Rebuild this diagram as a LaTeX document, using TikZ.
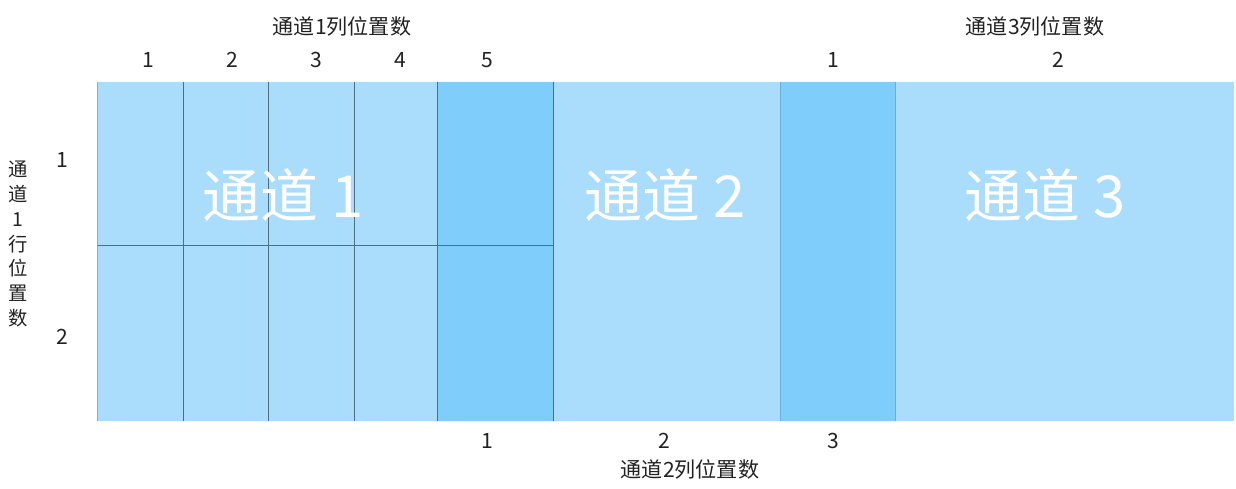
\documentclass[tikz,border=0pt]{standalone}
\usepackage{fontspec}
\setmainfont{Noto Sans CJK SC}
\usetikzlibrary{positioning}
\definecolor{lane}{HTML}{AADDFB}
\definecolor{slot}{HTML}{7FCDFB}
\definecolor{gridline}{HTML}{4F6F80}
\definecolor{ink}{HTML}{222222}

\begin{document}
\begin{tikzpicture}[x=0.02cm,y=-0.02cm,
	num/.style={text=ink,font=\fontsize{12}{14}\selectfont},
	captext/.style={text=ink,font=\fontsize{12}{14}\selectfont},
	big/.style={text=white,font=\fontsize{33}{36}\selectfont}]
	\useasboundingbox (0,0) rectangle (1236,488);

	% lanes
	\fill[lane] (97,82) rectangle (1234,421);
	\fill[slot] (437,82) rectangle (553,421);
	\fill[slot] (780,82) rectangle (895,421);
	\draw[slot!85!black,line width=0.3pt] (780,82) -- (780,421) (895,82) -- (895,421);

	% grid of lane 1
	\foreach \x in {183,268,354,437,553}
		\draw[gridline,line width=0.5pt] (\x,82) -- (\x,421);
	\draw[gridline,line width=0.5pt] (97,245) -- (553,245);
	\draw[gridline!60,line width=0.5pt] (97,82) -- (97,421);

	% lane names
	\node[big] (lane1) at (283,195) {通道 1};
	\node[big] (lane2) at (665,195) {通道 2};
	\node[big] (lane3) at (1045,195) {通道 3};

	% column numbers, lane 1
	\node[captext] (cols1) at (342,26) {通道1列位置数};
	\foreach \i/\x in {1/148,2/232,3/316,4/400,5/487}
		\node[num] (colA\i) at (\x,60) {\i};

	% column numbers, lane 3
	\node[captext] (cols3) at (1035,26) {通道3列位置数};
	\node[num] (colC1) at (833,60) {1};
	\node[num] (colC2) at (1058,60) {2};

	% column numbers, lane 2
	\foreach \i/\x in {1/487,2/664,3/833}
		\node[num] (colB\i) at (\x,441) {\i};
	\node[captext] (cols2) at (690,469) {通道2列位置数};

	% row numbers, lane 1
	\node[num] (rowA1) at (62,160) {1};
	\node[num] (rowA2) at (62,337) {2};
	\node[captext,align=center,font=\fontsize{11}{14.2}\selectfont] (rows1) at (18,244)
		{通\\道\\1\\行\\位\\置\\数};

\end{tikzpicture}
\end{document}
